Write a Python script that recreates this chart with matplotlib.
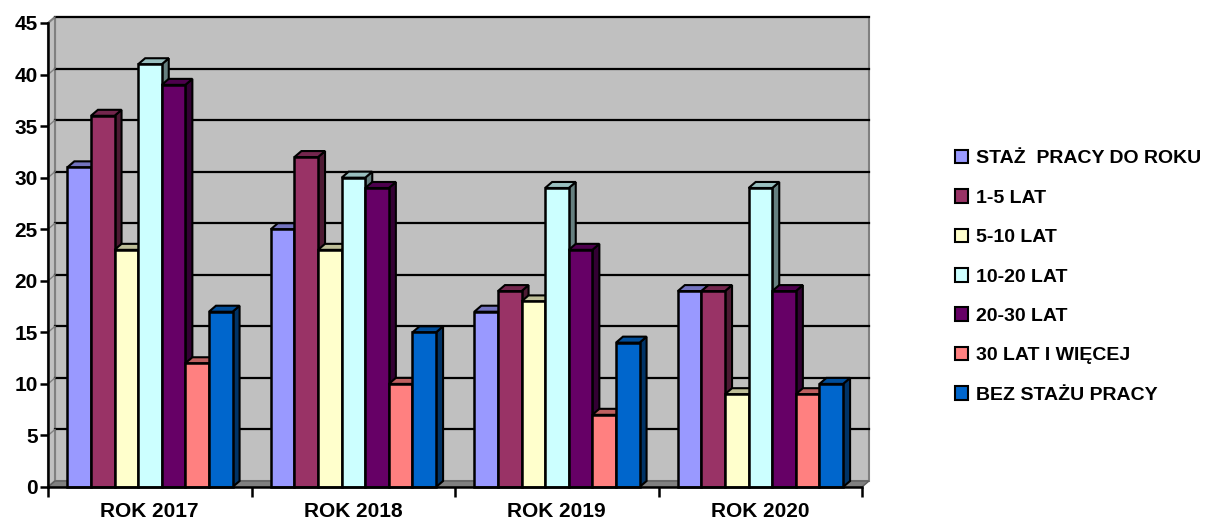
import numpy as np
import matplotlib
matplotlib.use("Agg")
import matplotlib.pyplot as plt
from matplotlib.patches import Polygon, Patch
from matplotlib.colors import to_rgb

plt.rcParams['font.family'] = ['Liberation Sans', 'DejaVu Sans']
plt.rcParams['font.weight'] = 'bold'

# ---------------------------------------------------------------
# Data
# ---------------------------------------------------------------
years = ['ROK 2017', 'ROK 2018', 'ROK 2019', 'ROK 2020']
series = ['STAŻ  PRACY DO ROKU', '1-5 LAT', '5-10 LAT', '10-20 LAT',
          '20-30 LAT', '30 LAT I WIĘCEJ', 'BEZ STAŻU PRACY']
staz_do_roku = [31, 25, 17, 19]
lat_1_5 = [36, 32, 19, 19]
lat_5_10 = [23, 23, 18, 9]
lat_10_20 = [41, 30, 29, 29]
lat_20_30 = [39, 29, 23, 19]
lat_30_plus = [12, 10, 7, 9]
bez_stazu = [17, 15, 14, 10]
values = [staz_do_roku, lat_1_5, lat_5_10, lat_10_20, lat_20_30, lat_30_plus, bez_stazu]

colors = ['#9999FF', '#993366', '#FFFFCC', '#CCFFFF', '#660066', '#FF8080', '#0066CC']

# ---------------------------------------------------------------
# Layout (pseudo-3D like old Excel charts)
# ---------------------------------------------------------------
fig = plt.figure(figsize=(12.11, 5.31), dpi=100)
W, H = 1211, 531
ax = fig.add_axes([48 / W, 44 / H, (862 - 48) / W, (487 - 23) / H])
ax.set_xlim(0, 4)
ax.set_ylim(0, 45)
ax.patch.set_alpha(0)

dx = 7 / 203.5   # depth offset in x (data units)
dy = 6 / 10.31   # depth offset in y (data units)
ymax = 45

def shade(c, f):
    r, g, b = to_rgb(c)
    return (r * f, g * f, b * f)

# back wall
ax.add_patch(Polygon([(dx, dy), (4 + dx, dy), (4 + dx, ymax + dy), (dx, ymax + dy)],
                     closed=True, facecolor='#C0C0C0', edgecolor='#808080', lw=1.5,
                     clip_on=False, zorder=0))
# left wall
ax.add_patch(Polygon([(0, 0), (dx, dy), (dx, ymax + dy), (0, ymax)],
                     closed=True, facecolor='#C0C0C0', edgecolor='#808080', lw=1.5,
                     clip_on=False, zorder=0))
# floor
ax.add_patch(Polygon([(0, 0), (dx, dy), (4 + dx, dy), (4, 0)],
                     closed=True, facecolor='#808080', edgecolor='#606060', lw=1,
                     clip_on=False, zorder=0.5))

# gridlines on back wall
for v in range(5, 50, 5):
    ax.plot([dx, 4 + dx], [v + dy, v + dy], color='black', lw=1.6,
            clip_on=False, zorder=1)
    ax.plot([0, dx], [v, v + dy], color='#808080', lw=1, clip_on=False, zorder=1)

# bars
bw = 0.116
start = 0.095
z = 2
for g in range(len(years)):
    for i, (vals, c) in enumerate(zip(values, colors)):
        v = vals[g]
        x0 = g + start + i * bw
        x1 = x0 + bw
        side = Polygon([(x1, 0), (x1, v), (x1 + dx, v + dy), (x1 + dx, dy)],
                       closed=True, facecolor=shade(c, 0.5), edgecolor='black',
                       lw=1.5, zorder=z, clip_on=False)
        top = Polygon([(x0, v), (x0 + dx, v + dy), (x1 + dx, v + dy), (x1, v)],
                      closed=True, facecolor=shade(c, 0.75), edgecolor='black',
                      lw=1.5, zorder=z, clip_on=False)
        front = Polygon([(x0, 0), (x0, v), (x1, v), (x1, 0)],
                        closed=True, facecolor=c, edgecolor='black',
                        lw=1.8, zorder=z + 0.1, clip_on=False)
        ax.add_patch(side)
        ax.add_patch(top)
        ax.add_patch(front)
        z += 0.2

# axes styling
for s in ['top', 'right']:
    ax.spines[s].set_visible(False)
for s in ['left', 'bottom']:
    ax.spines[s].set_linewidth(1.8)
    ax.spines[s].set_zorder(20)

ax.set_yticks(range(0, 50, 5))
ax.tick_params(axis='y', length=6, width=1.8, pad=1.5, labelsize=15)
ax.set_xticks([0, 1, 2, 3, 4])
ax.set_xticklabels([])
ax.tick_params(axis='x', which='major', length=7, width=1.8)
ax.set_xticks([0.5, 1.5, 2.5, 3.5], minor=True)
ax.set_xticklabels(years, minor=True)
ax.tick_params(axis='x', which='minor', length=0, pad=11, labelsize=15)
for lab in ax.get_yticklabels() + ax.get_xticklabels(minor=True):
    lab.set_fontweight('bold')

# legend
handles = [Patch(facecolor=c, edgecolor='black', lw=1.5) for c in colors]
fig.legend(handles, series, loc='upper left', bbox_to_anchor=(947 / W, 1 - 142 / H),
           frameon=False, prop={'weight': 'bold', 'size': 14},
           handlelength=0.7, handleheight=0.7, handletextpad=0.4,
           labelspacing=1.12, borderaxespad=0)

fig.savefig('out.png', dpi=100)
